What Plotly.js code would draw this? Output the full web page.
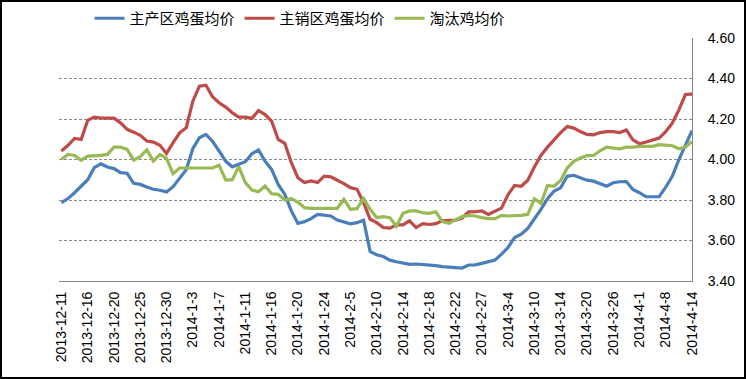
<!DOCTYPE html>
<html>
<head>
<meta charset="utf-8">
<script src="https://cdn.plot.ly/plotly-3.0.1.min.js"></script>
<style>
  html, body { margin: 0; padding: 0; background: #fff; }
  #wrap { width: 742px; height: 375px; border: 2px solid #000; }
  #chart { width: 742px; height: 375px; }
</style>
</head>
<body>
<div id="wrap"><div id="chart"></div></div>
<script>
// Tick labels (every 4th observation)
const tickLabels = ["2013-12-11","2013-12-16","2013-12-20","2013-12-25","2013-12-30",
  "2014-1-3","2014-1-7","2014-1-11","2014-1-16","2014-1-20","2014-1-24","2014-2-5",
  "2014-2-10","2014-2-14","2014-2-18","2014-2-22","2014-2-27","2014-3-4","2014-3-10",
  "2014-3-14","2014-3-20","2014-3-26","2014-4-1","2014-4-8","2014-4-14"];

const seriesNames = ["主产区鸡蛋均价", "主销区鸡蛋均价", "淘汰鸡均价"];

const mainProducing = [3.787,3.807,3.836,3.866,3.900,3.960,3.979,3.963,3.955,3.935,
  3.932,3.882,3.877,3.864,3.853,3.848,3.840,3.866,3.905,3.950,
  4.053,4.107,4.124,4.090,4.042,3.992,3.964,3.976,3.989,4.029,
  4.047,3.992,3.951,3.877,3.828,3.746,3.685,3.693,3.708,3.729,
  3.724,3.721,3.701,3.693,3.682,3.688,3.700,3.545,3.530,3.521,
  3.503,3.495,3.489,3.482,3.484,3.482,3.479,3.476,3.471,3.469,
  3.469,3.464,3.479,3.480,3.487,3.495,3.503,3.533,3.566,3.615,
  3.631,3.660,3.705,3.754,3.806,3.844,3.860,3.917,3.922,3.909,
  3.898,3.893,3.880,3.868,3.885,3.890,3.891,3.852,3.836,3.816,
  3.816,3.816,3.863,3.917,3.999,4.068,4.143];

const mainSelling = [4.042,4.070,4.104,4.099,4.193,4.209,4.204,4.204,4.204,4.181,
  4.149,4.135,4.119,4.091,4.086,4.070,4.030,4.083,4.132,4.157,
  4.288,4.362,4.367,4.310,4.280,4.259,4.231,4.209,4.209,4.203,
  4.242,4.222,4.190,4.099,4.080,3.984,3.910,3.886,3.894,3.886,
  3.918,3.914,3.899,3.881,3.861,3.853,3.787,3.705,3.688,3.664,
  3.661,3.677,3.677,3.697,3.664,3.683,3.679,3.683,3.697,3.700,
  3.701,3.711,3.741,3.742,3.746,3.729,3.746,3.760,3.827,3.872,
  3.868,3.898,3.963,4.020,4.061,4.097,4.133,4.163,4.155,4.138,
  4.124,4.122,4.133,4.138,4.138,4.133,4.146,4.097,4.078,4.086,
  4.097,4.106,4.138,4.179,4.245,4.321,4.323];

const spentHen = [4.001,4.025,4.020,3.996,4.017,4.017,4.020,4.025,4.061,4.061,
  4.050,3.997,4.014,4.047,3.992,4.025,4.006,3.930,3.958,3.958,
  3.958,3.958,3.958,3.958,3.971,3.899,3.899,3.965,3.886,3.849,
  3.841,3.869,3.831,3.828,3.800,3.807,3.790,3.762,3.759,3.759,
  3.759,3.759,3.759,3.803,3.754,3.757,3.807,3.754,3.713,3.718,
  3.713,3.670,3.734,3.746,3.746,3.737,3.734,3.742,3.693,3.685,
  3.700,3.718,3.724,3.721,3.713,3.708,3.708,3.724,3.721,3.721,
  3.724,3.729,3.806,3.783,3.872,3.868,3.896,3.958,3.991,4.007,
  4.019,4.020,4.043,4.061,4.056,4.053,4.061,4.061,4.065,4.065,
  4.065,4.073,4.070,4.068,4.053,4.061,4.089];

const colors = ["#4A7EBB", "#BE4B48", "#98B954"];

const idx = mainProducing.map((_, i) => i);
const tickVals = tickLabels.map((_, k) => k * 4);

const allSeries = [mainProducing, mainSelling, spentHen];
const traces = allSeries.map((ys, s) => ({
  type: "scatter",
  mode: "lines",
  name: seriesNames[s],
  x: idx,
  y: ys,
  line: { color: colors[s], width: 3.2 },
  hoverinfo: "skip"
}));

const layout = {
  width: 742,
  height: 375,
  margin: { l: 57, r: 52, t: 36, b: 96 },
  paper_bgcolor: "#ffffff",
  plot_bgcolor: "#ffffff",
  font: { family: "Liberation Sans, Arial, sans-serif", size: 14, color: "#000" },
  showlegend: true,
  legend: {
    orientation: "h",
    xref: "container", yref: "container",
    x: 0.118, xanchor: "left",
    y: 1.0, yanchor: "top",
    font: { family: "Noto Sans CJK SC, sans-serif", size: 15, color: "#000" },
    itemwidth: 30,
    tracegroupgap: 0,
    bgcolor: "rgba(0,0,0,0)"
  },
  xaxis: {
    range: [-0.37, 96],
    tickmode: "array",
    tickvals: tickVals,
    ticktext: tickLabels,
    tickangle: -90,
    showgrid: false,
    zeroline: false,
    showline: true,
    linecolor: "#868686",
    linewidth: 1,
    ticks: "",
    ticklabelstandoff: 4,
    tickfont: { family: "Liberation Sans, Arial, sans-serif", size: 14, color: "#000" }
  },
  yaxis: {
    side: "right",
    range: [3.4, 4.6],
    dtick: 0.2,
    tick0: 3.4,
    tickformat: ".2f",
    showgrid: true,
    gridcolor: "#8a8a8a",
    griddash: "3px,2px",
    gridwidth: 1,
    zeroline: false,
    showline: true,
    linecolor: "#868686",
    linewidth: 1,
    ticks: "",
    ticklabelstandoff: 12,
    tickfont: { family: "Liberation Sans, Arial, sans-serif", size: 14, color: "#000" }
  }
};

Plotly.newPlot("chart", traces, layout, { displayModeBar: false, staticPlot: true });
</script>
</body>
</html>
